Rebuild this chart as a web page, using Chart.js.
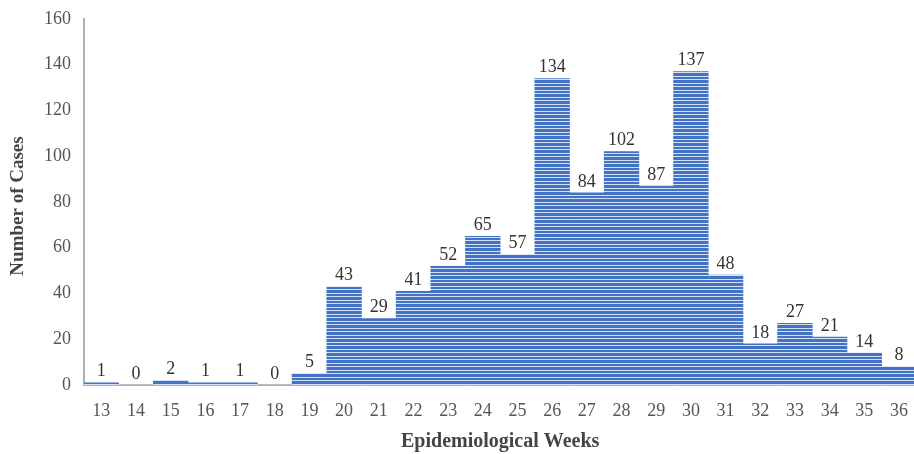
<!DOCTYPE html>
<html>
<head>
<meta charset="utf-8">
<script src="https://cdn.jsdelivr.net/npm/chart.js@4/dist/chart.umd.min.js"></script>
<style>
html,body{margin:0;padding:0;background:#fff;overflow:hidden;}
#wrap{width:914px;height:454px;position:relative;overflow:hidden;}
</style>
</head>
<body>
<div id="wrap"><canvas id="c" width="923" height="454"></canvas></div>
<script>
const weeks = ['13','14','15','16','17','18','19','20','21','22','23','24','25','26','27','28','29','30','31','32','33','34','35','36'];
const cases = [1,0,2,1,1,0,5,43,29,41,52,65,57,134,84,102,87,137,48,18,27,21,14,8];
const yTicks = [0,20,40,60,80,100,120,140,160];
const xTitle = 'Epidemiological Weeks';
const yTitle = 'Number of Cases';

function stripePattern(){
  const p = document.createElement('canvas');
  p.width = 4; p.height = 7;
  const g = p.getContext('2d');
  g.fillStyle = '#4472c4'; g.fillRect(0,0,4,7);
  g.fillStyle = '#d3dff3'; g.fillRect(0,2,4,1); g.fillRect(0,6,4,1);
  return document.getElementById('c').getContext('2d').createPattern(p,'repeat');
}

const serif = '"Liberation Serif", "Times New Roman", serif';

const labelPlugin = {
  id: 'labels',
  afterDatasetsDraw(chart){
    const ctx = chart.ctx;
    const meta = chart.getDatasetMeta(0);
    ctx.save();
    ctx.font = '18px ' + serif;
    ctx.fillStyle = '#333';
    ctx.textAlign = 'center';
    ctx.textBaseline = 'bottom';
    meta.data.forEach((bar,i)=>{
      ctx.fillText(String(cases[i]), bar.x, bar.y - 2);
    });
    // y title
    ctx.font = 'bold 19px ' + serif;
    ctx.fillStyle = '#444';
    ctx.translate(18, 206);
    ctx.rotate(-Math.PI/2);
    ctx.textBaseline = 'middle';
    ctx.fillText(yTitle, 0, 0);
    ctx.restore();
  }
};

new Chart(document.getElementById('c'), {
  type: 'bar',
  data: {
    labels: weeks,
    datasets: [{
      data: cases,
      backgroundColor: stripePattern(),
      borderWidth: 0,
      barPercentage: 1,
      categoryPercentage: 1
    }]
  },
  options: {
    responsive: false,
    animation: false,
    layout: { padding: { top: 19, right: 0, left: 0, bottom: 0 } },
    plugins: { legend: { display: false }, tooltip: { enabled: false } },
    scales: {
      x: {
        grid: { display: false, drawTicks: false },
        border: { display: true, color: '#b0b0b0', width: 2 },
        ticks: { color: '#555', font: { family: serif, size: 18 }, padding: 15, maxRotation: 0, autoSkip: false },
        title: { display: true, text: xTitle, color: '#444', font: { family: serif, size: 20, weight: 'bold' }, padding: { top: 15, bottom: 0 } },
        afterFit(s){ s.height = 69; }
      },
      y: {
        min: 0, max: 160,
        afterBuildTicks(s){ s.ticks = yTicks.map(v=>({value:v})); },
        grid: { display: false, drawTicks: false },
        border: { display: true, color: '#b0b0b0', width: 2 },
        ticks: { color: '#555', font: { family: serif, size: 18 }, padding: 13 },
        afterFit(s){ s.width = 84; s.paddingTop = 0; s.paddingBottom = 0; }
      }
    }
  },
  plugins: [labelPlugin]
});
</script>
</body>
</html>
